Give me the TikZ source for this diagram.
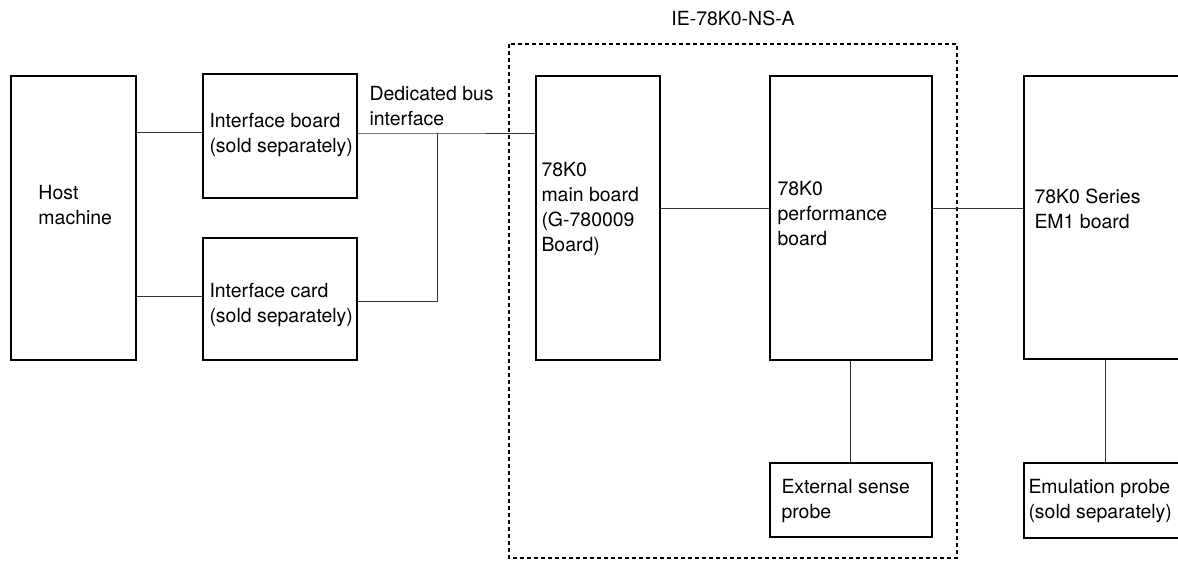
\documentclass[tikz,border=0pt]{standalone}
\usepackage{fontspec}
\setmainfont{TeX Gyre Heros}
\tikzset{every picture/.style={line width=0.75pt}}
\tikzset{
  board/.style={draw, line width=1.35pt, rectangle, inner sep=0pt, anchor=north west},
  lbl/.style={inner sep=0pt, align=left, anchor=west, font=\fontsize{14.6}{18.75}\selectfont},
  wire/.style={draw, line width=0.65pt, color=black!80},
  frame/.style={draw, line width=0.8pt, dash pattern=on 3pt off 2.25pt}
}

\begin{document}
\begin{tikzpicture}[x=0.75pt,y=0.75pt,yscale=-1,xscale=1]
\useasboundingbox (0,0) rectangle (1178,561);
%Shape: Dashed frame [IE-78K0-NS-A]
\draw[frame] (509,44) rectangle (957,558);

%Shape: Rectangle [host]
\node[board, minimum width=93.75pt, minimum height=213pt] (host) at (10,75) {};
%Shape: Rectangle [interface board]
\node[board, minimum width=115.5pt, minimum height=93pt] (ifboard) at (202,73) {};
%Shape: Rectangle [interface card]
\node[board, minimum width=115.5pt, minimum height=91.5pt] (ifcard) at (202,237) {};
%Shape: Rectangle [main board]
\node[board, minimum width=93pt, minimum height=213pt] (mainb) at (535,75) {};
%Shape: Rectangle [performance board]
\node[board, minimum width=121.5pt, minimum height=213pt] (perfb) at (769,75) {};
%Shape: Rectangle [EM1 board]
\node[board, minimum width=123pt, minimum height=212.25pt] (emb) at (1023,75) {};
%Shape: Rectangle [external sense probe]
\node[board, minimum width=121.5pt, minimum height=55.5pt] (sensep) at (769,462) {};
%Shape: Rectangle [emulation probe]
\node[board, minimum width=123pt, minimum height=56.25pt] (emup) at (1023,462) {};

%Junctions
\coordinate (busj) at (437,133);
\coordinate (cardj) at (437,301);
\coordinate (linky) at (0,208);

%Connectors
\draw[wire] (host.east |- 0,132) -- (ifboard.west |- 0,132);
\draw[wire] (host.east |- 0,296) -- (ifcard.west |- 0,296);
\draw[wire] (ifboard.east |- busj) -- (busj) -- (mainb.west |- busj);
\draw[wire] (ifcard.east |- cardj) -- (cardj) -- (busj);
\draw[wire] (mainb.east |- linky) -- (perfb.west |- linky);
\draw[wire] (perfb.east |- linky) -- (emb.west |- linky);
\draw[wire] (perfb.south) -- (sensep.north);
\draw[wire] (emb.south) -- (emup.north);

% Text Node
\node[lbl, anchor=center] (title) at (733,18) {IE-78K0-NS-A};
% Text Node
\node[lbl] (hosttxt) at (38,205) {Host\\machine};
% Text Node
\node[lbl] (ifboardtxt) at (209,135) {Interface board\\(sold separately)};
% Text Node
\node[lbl] (ifcardtxt) at (209,305) {Interface card\\(sold separately)};
% Text Node
\node[lbl] (bustxt) at (369,106) {Dedicated bus\\interface};
% Text Node
\node[lbl] (mainbtxt) at (541,209) {78K0\\main board\\(G-780009\\Board)};
% Text Node
\node[lbl] (perfbtxt) at (777,214) {78K0\\performance\\board};
% Text Node
\node[lbl] (embtxt) at (1034,209) {78K0 Series\\EM1 board};
% Text Node
\node[lbl] (senseptxt) at (781,501) {External sense\\probe};
% Text Node
\node[lbl] (emuptxt) at (1028,501) {Emulation probe\\(sold separately)};
\end{tikzpicture}
\end{document}
